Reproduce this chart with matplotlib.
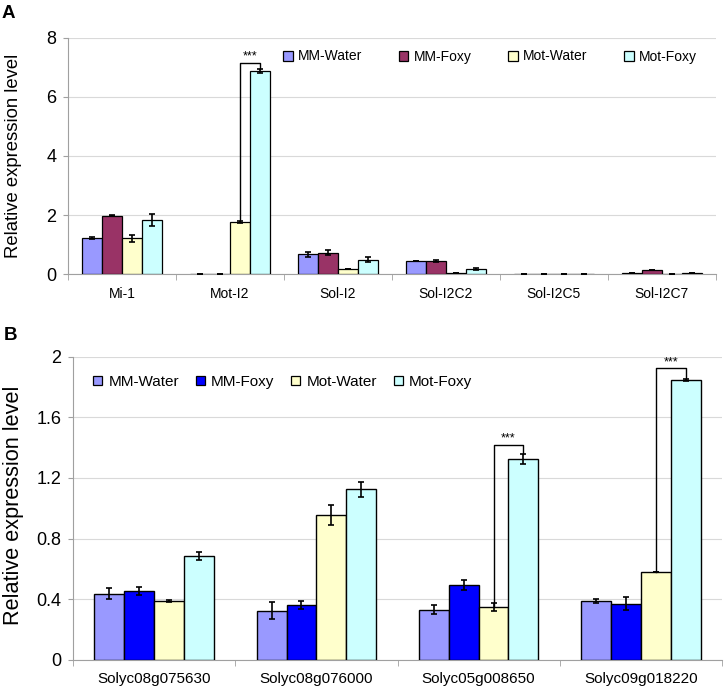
import numpy as np
import matplotlib
matplotlib.use('Agg')
from matplotlib import pyplot as plt
from matplotlib.patches import Patch

plt.rcParams['font.family'] = ['Liberation Sans', 'DejaVu Sans']

# series names and colours
series = ['MM-Water', 'MM-Foxy', 'Mot-Water', 'Mot-Foxy']
coloursA = ['#9999FF', '#993366', '#FFFFCC', '#CCFFFF']
coloursB = ['#9999FF', '#0000FF', '#FFFFCC', '#CCFFFF']

# panel A data
genesA = ['Mi-1', 'Mot-I2', 'Sol-I2', 'Sol-I2C2', 'Sol-I2C5', 'Sol-I2C7']
mmWaterA = [1.22, 0.0, 0.67, 0.45, 0.0, 0.03]
mmWaterErrA = [0.03, 0.0, 0.09, 0.0, 0.0, 0.0]
mmFoxyA = [1.98, 0.0, 0.72, 0.45, 0.0, 0.14]
mmFoxyErrA = [0.03, 0.0, 0.08, 0.04, 0.0, 0.0]
motWaterA = [1.21, 1.75, 0.17, 0.03, 0.0, 0.01]
motWaterErrA = [0.12, 0.03, 0.0, 0.0, 0.0, 0.0]
motFoxyA = [1.84, 6.88, 0.49, 0.17, 0.0, 0.04]
motFoxyErrA = [0.2, 0.08, 0.09, 0.04, 0.0, 0.0]
ticksA = [0, 2, 4, 6, 8]
sigA = [(1, 7.16)]   # (gene index, bracket height)

# panel B data
genesB = ['Solyc08g075630', 'Solyc08g076000', 'Solyc05g008650', 'Solyc09g018220']
mmWaterB = [0.437, 0.323, 0.331, 0.387]
mmWaterErrB = [0.035, 0.057, 0.028, 0.015]
mmFoxyB = [0.453, 0.362, 0.49, 0.369]
mmFoxyErrB = [0.028, 0.024, 0.033, 0.044]
motWaterB = [0.387, 0.957, 0.347, 0.581]
motWaterErrB = [0.005, 0.066, 0.026, 0.0]
motFoxyB = [0.683, 1.125, 1.326, 1.847]
motFoxyErrB = [0.025, 0.05, 0.035, 0.005]
ticksB = [0, 0.4, 0.8, 1.2, 1.6, 2]
tickLabelsB = ['0', '0.4', '0.8', '1.2', '1.6', '2']
sigB = [(2, 1.42), (3, 1.923)]


def drawPanel(ax, genes, vals, errs, colours, ticks, sig, lw, fs):
  '''grouped bars with error bars and significance brackets'''
  x = np.arange(len(genes))
  w = 0.184
  tops = []
  for k in range(4):
    pos = x + (k - 1.5) * w
    ax.bar(pos, vals[k], w, color=colours[k], edgecolor='black', linewidth=lw, zorder=3)
    ax.errorbar(pos, vals[k], yerr=errs[k], fmt='none', ecolor='black',
                elinewidth=1.2, capsize=2.5, capthick=1.2, zorder=4)
    tops.append(np.array(vals[k]) + np.array(errs[k]))

  for i, h in sig:
    x0 = x[i] + 0.5 * w
    x1 = x[i] + 1.5 * w
    ax.plot([x0, x0, x1, x1], [vals[2][i], h, h, tops[3][i]], color='black', lw=1.0, zorder=5)
    ax.text((x0 + x1) / 2, h, '***', ha='center', va='bottom', fontsize=9, zorder=5)

  ax.set_xlim(-0.5, len(genes) - 0.5)
  ax.set_ylim(ticks[0], ticks[-1])
  ax.set_yticks(ticks)
  ax.yaxis.grid(True, color='#d9d9d9', lw=0.8, zorder=0)
  ax.set_axisbelow(True)
  for s in ['top', 'right']:
    ax.spines[s].set_visible(False)
  ax.spines['left'].set_color('#a0a0a0')
  ax.spines['bottom'].set_color('#a0a0a0')
  ax.set_xticks(x)
  ax.set_xticklabels(genes, fontsize=fs)
  ax.set_xticks(np.arange(len(genes) + 1) - 0.5, minor=True)
  ax.tick_params(axis='x', which='major', length=0, pad=9)
  ax.tick_params(axis='x', which='minor', length=4, color='#a0a0a0')
  ax.tick_params(axis='y', length=3.5, color='#a0a0a0', pad=5)


fig = plt.figure(figsize=(7.26, 6.93), dpi=100)

axA = fig.add_axes([0.0937, 0.6046, 0.8923, 0.3406])
drawPanel(axA, genesA, [mmWaterA, mmFoxyA, motWaterA, motFoxyA],
          [mmWaterErrA, mmFoxyErrA, motWaterErrA, motFoxyErrA],
          coloursA, ticksA, sigA, 0.9, 10)
axA.tick_params(axis='y', labelsize=13)

axB = fig.add_axes([0.1006, 0.048, 0.8939, 0.4373])
drawPanel(axB, genesB, [mmWaterB, mmFoxyB, motWaterB, motFoxyB],
          [mmWaterErrB, mmFoxyErrB, motWaterErrB, motFoxyErrB],
          coloursB, ticksB, sigB, 1.0, 11)
axB.set_yticklabels(tickLabelsB)
axB.tick_params(axis='y', labelsize=13)

# legends
handlesA = [Patch(facecolor=c, edgecolor='black', lw=0.9) for c in coloursA]
fig.legend(handlesA, series, loc='center left', bbox_to_anchor=(283 / 726, 1 - 56.5 / 693),
           ncol=4, frameon=False, fontsize=10, handlelength=0.7, handleheight=0.7,
           handletextpad=0.4, columnspacing=2.6, borderpad=0, borderaxespad=0)
handlesB = [Patch(facecolor=c, edgecolor='black', lw=0.9) for c in coloursB]
fig.legend(handlesB, series, loc='center left', bbox_to_anchor=(93 / 726, 1 - 382 / 693),
           ncol=4, frameon=False, fontsize=11, handlelength=0.6, handleheight=0.6,
           handletextpad=0.4, columnspacing=1.1, borderpad=0, borderaxespad=0)

# axis titles and panel letters
fig.text(14 / 726, 1 - 155.5 / 693, 'Relative expression level', rotation=90,
         ha='center', va='center', fontsize=13.3)
fig.text(13.5 / 726, 1 - 505 / 693, 'Relative expression level', rotation=90,
         ha='center', va='center', fontsize=15.6)
fig.text(2 / 726, 1 - 13 / 693, 'A', fontsize=13.5, fontweight='bold', va='center')
fig.text(4 / 726, 1 - 336 / 693, 'B', fontsize=13.5, fontweight='bold', va='center')

fig.savefig('out.png', dpi=100)
